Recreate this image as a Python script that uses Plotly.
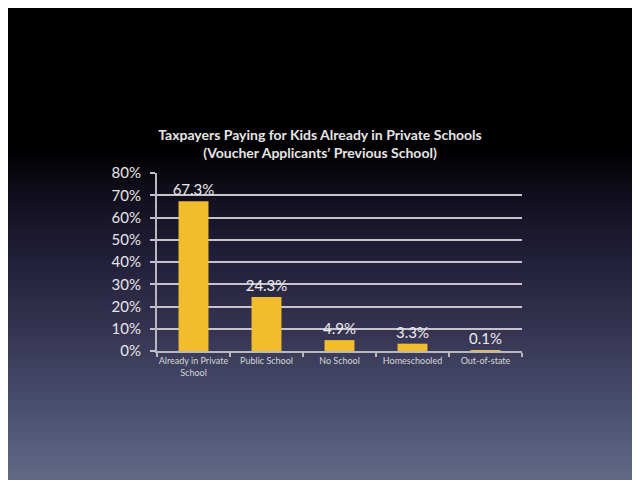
import plotly.graph_objects as go

# datos
categorias = ['Already in Private<br>School', 'Public School', 'No School', 'Homeschooled', 'Out-of-state']
porcentajes = [67.3, 24.3, 4.9, 3.3, 0.1]
marcas_y = [0, 10, 20, 30, 40, 50, 60, 70, 80]
etiquetas_y = [f'{v}%' for v in marcas_y]

# fondo degradado (pixel y de pantalla, color)
degradado = [
    (0, (0, 0, 0)), (150, (0, 0, 0)), (200, (18, 16, 32)), (260, (34, 31, 58)),
    (300, (46, 43, 72)), (330, (54, 51, 82)), (370, (63, 66, 96)),
    (420, (79, 84, 116)), (480, (99, 104, 133)),
]

ANCHO, ALTO = 640, 480
DESPL = 8  # margen del body de la página
TOP = 173 - DESPL
BOTTOM = ALTO - (351 - DESPL)
LEFT = 157 - DESPL
RIGHT = ANCHO - (522 - DESPL)
alto_plot = ALTO - TOP - BOTTOM


def color_en(p):
    for (y0, c0), (y1, c1) in zip(degradado, degradado[1:]):
        if y0 <= p <= y1:
            t = (p - y0) / (y1 - y0) if y1 > y0 else 0
            return 'rgb(%d,%d,%d)' % tuple(round(a + (b - a) * t) for a, b in zip(c0, c1))
    return 'rgb(%d,%d,%d)' % degradado[-1][1]


def a_paper(q):
    return (ALTO - BOTTOM - q) / alto_plot


franjas = []
paso = 4
for q in range(0, ALTO, paso):
    franjas.append(dict(
        type='rect', xref='paper', yref='paper', layer='below',
        x0=-1, x1=2, y0=a_paper(q + paso), y1=a_paper(q),
        fillcolor=color_en(q + DESPL + paso / 2), line=dict(width=0),
    ))

fig = go.Figure(go.Bar(
    x=categorias,
    y=porcentajes,
    marker=dict(color='#f1bd2d', line=dict(width=0)),
    texttemplate='%{y:.1f}%',
    textposition='outside',
    constraintext='none',
    textfont=dict(family='Lato', size=15, color='#ececec'),
    cliponaxis=False,
))

fig.update_layout(
    width=ANCHO,
    height=ALTO,
    margin=dict(l=LEFT, r=RIGHT, t=TOP, b=BOTTOM),
    paper_bgcolor='#000000',
    plot_bgcolor='rgba(0,0,0,0)',
    shapes=franjas,
    bargap=0.59,
    showlegend=False,
    title=dict(
        text='Taxpayers Paying for Kids Already in Private Schools<br>(Voucher Applicants\u2019 Previous School)',
        x=(320 - DESPL) / ANCHO, xref='container', xanchor='center',
        y=1 - (140 - DESPL) / ALTO, yref='container', yanchor='middle',
        font=dict(family='Lato', size=14, color='#e6e6e6', weight='bold'),
    ),
)

fig.update_xaxes(
    showgrid=False,
    showline=True, linecolor='#b8b8be', linewidth=2,
    ticks='outside', tickson='boundaries', ticklen=4, tickcolor='#b8b8be', tickwidth=2,
    tickangle=0,
    tickfont=dict(family='Lato', size=9, color='#d6d6d6'),
)
fig.update_yaxes(
    range=[0, 80],
    tickvals=marcas_y, ticktext=etiquetas_y,
    showgrid=True, gridcolor='#c4c4ca', gridwidth=2,
    showline=True, linecolor='#b8b8be', linewidth=2,
    ticks='outside', ticklen=5, tickcolor='#c4c4ca', tickwidth=2,
    ticklabelstandoff=6,
    tickfont=dict(family='Lato', size=15, color='#e6e6e6'),
    zeroline=False,
)

fig.write_html('out.html')
